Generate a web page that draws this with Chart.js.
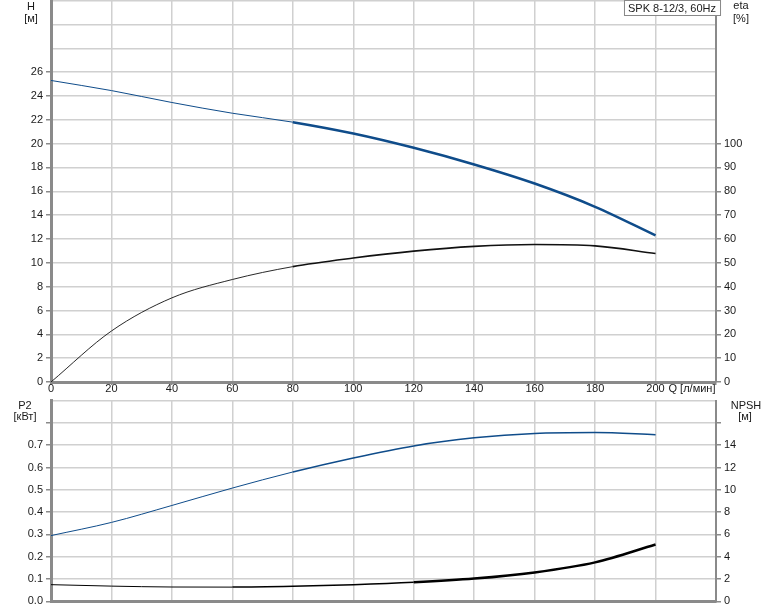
<!DOCTYPE html>
<html>
<head>
<meta charset="utf-8">
<script src="https://cdn.jsdelivr.net/npm/chart.js@4"></script>
<style>
  html, body { margin: 0; padding: 0; background: #fff; overflow: hidden; }
  #wrap { position: relative; width: 774px; height: 611px; overflow: hidden; }
  #topBox { position: absolute; left: 0; top: -9px; width: 774px; height: 407px; }
  #bottomBox { position: absolute; left: 0; top: 391px; width: 774px; height: 220px; }
</style>
</head>
<body>
<div id="wrap">
  <div id="topBox"><canvas id="curveChart"></canvas></div>
  <div id="bottomBox"><canvas id="powerChart"></canvas></div>
</div>
<script>
// Flow rate Q [л/мин]
const qValues = [0, 20, 40, 60, 80, 100, 120, 140, 160, 180, 200];
// Head H [м]
const hValues = [25.3, 24.45, 23.45, 22.55, 21.8, 20.85, 19.65, 18.25, 16.65, 14.7, 12.3];
// Efficiency eta [%]
const etaValues = [0, 21.4, 35.3, 43.0, 48.4, 52.0, 54.9, 56.9, 57.7, 57.1, 53.9];
// Power P2 [кВт]
const p2Values = [0.295, 0.354, 0.43, 0.508, 0.58, 0.643, 0.697, 0.733, 0.753, 0.757, 0.747];
// NPSH [м]
const npshValues = [1.5, 1.37, 1.29, 1.28, 1.35, 1.5, 1.72, 2.05, 2.6, 3.5, 5.1];

const xTicks = [0, 20, 40, 60, 80, 100, 120, 140, 160, 180, 200];

const font = { family: '"Liberation Sans", Arial, sans-serif', size: 11 };
const textColor = '#1a1a1a';
const gridColor = '#d0d0d0';
const axisColor = '#8a8a8a';

const pts = (ys) => qValues.map((q, i) => ({ x: q, y: ys[i] }));
// line gets heavier inside the working range
const widthByQ = (steps) => ctx => {
    let w = steps[0][1];
    steps.forEach(([from, width]) => { if (ctx.p0.parsed.x >= from) w = width; });
    return w;
};

const textPlugin = {
    id: 'textItems',
    afterDraw(chart, args, opts) {
        const c = chart.ctx;
        const dy = opts.dy || 0;
        c.save();
        c.font = '11px "Liberation Sans", Arial, sans-serif';
        c.fillStyle = textColor;
        c.textAlign = 'center';
        (opts.items || []).forEach(t => {
            if (t.box) {
                const w = c.measureText(t.text).width + 8;
                c.fillStyle = '#fff';
                c.fillRect(t.x - w / 2, dy, w, 16);
                c.strokeStyle = '#888';
                c.lineWidth = 1;
                c.strokeRect(t.x - w / 2 + 0.5, dy + 0.5, w, 15);
                c.fillStyle = textColor;
            }
            c.fillText(t.text, t.x, t.y + dy);
        });
        c.restore();
    }
};

function xScale(height, showLabels) {
    return {
        type: 'linear',
        min: 0,
        max: 220,
        afterBuildTicks: s => { s.ticks = [...xTicks, 220].map(v => ({ value: v })); },
        afterFit: s => { s.height = height; },
        ticks: {
            display: showLabels,
            autoSkip: false,
            maxRotation: 0,
            padding: -3,
            color: textColor,
            font: font,
            callback: v => v <= 200 ? v : ''
        },
        grid: { color: gridColor, lineWidth: 1.5, tickLength: 3, drawTicks: showLabels, tickColor: axisColor },
        border: { color: axisColor, width: 3 }
    };
}

function yScale(pos, max, step, lastLabel, width, fmt, drawGrid, tickMax) {
    return {
        type: 'linear',
        position: pos,
        min: 0,
        max: max,
        afterBuildTicks: s => {
            const t = [];
            for (let i = 0; i <= Math.round(max / step); i++) t.push({ value: +(i * step).toFixed(3) });
            s.ticks = t;
        },
        afterFit: s => { s.width = width; },
        ticks: {
            autoSkip: false,
            padding: 3,
            color: textColor,
            font: font,
            callback: v => v <= lastLabel + 1e-9 ? fmt(v) : ''
        },
        grid: {
            display: true,
            drawOnChartArea: drawGrid,
            color: gridColor,
            lineWidth: 1.5,
            tickLength: 5,
            tickColor: ctx => (ctx.tick && ctx.tick.value > tickMax + 1e-9) ? 'rgba(0,0,0,0)' : axisColor
        },
        border: { color: axisColor, width: pos === 'left' ? 3 : 2 }
    };
}

new Chart(document.getElementById('curveChart'), {
    type: 'line',
    data: {
        datasets: [
            {
                label: 'H',
                data: pts(hValues),
                yAxisID: 'yH',
                borderColor: '#0f4c8a',
                borderWidth: 2.5,
                segment: { borderWidth: widthByQ([[0, 1], [70, 2.5]]) },
                pointRadius: 0,
                cubicInterpolationMode: 'monotone'
            },
            {
                label: 'eta',
                data: pts(etaValues),
                yAxisID: 'yEta',
                borderColor: '#111',
                borderWidth: 1.6,
                segment: { borderWidth: widthByQ([[0, 0.9], [70, 1.6]]) },
                pointRadius: 0,
                cubicInterpolationMode: 'monotone'
            }
        ]
    },
    options: {
        responsive: true,
        maintainAspectRatio: false,
        animation: false,
        events: [],
        layout: { padding: 0 },
        plugins: {
            legend: { display: false },
            tooltip: { enabled: false },
            textItems: {
                dy: 9,
                items: [
                    { text: 'H', x: 31, y: 10 },
                    { text: '[м]', x: 31, y: 22 },
                    { text: 'eta', x: 741, y: 9 },
                    { text: '[%]', x: 741, y: 22 },
                    { text: 'Q [л/мин]', x: 692, y: 392 },
                    { text: 'SPK 8-12/3, 60Hz', x: 672, y: 12, box: true }
                ]
            }
        },
        scales: {
            x: xScale(16, true),
            yH: yScale('left', 32, 2, 26, 51, v => String(v), true, 26),
            yEta: yScale('right', 160, 10, 100, 58, v => String(v), false, 100)
        }
    },
    plugins: [textPlugin]
});

new Chart(document.getElementById('powerChart'), {
    type: 'line',
    data: {
        datasets: [
            {
                label: 'P2',
                data: pts(p2Values),
                yAxisID: 'yP',
                borderColor: '#0f4c8a',
                borderWidth: 1.5,
                segment: { borderWidth: widthByQ([[0, 1], [70, 1.5]]) },
                pointRadius: 0,
                cubicInterpolationMode: 'monotone'
            },
            {
                label: 'NPSH',
                data: pts(npshValues),
                yAxisID: 'yN',
                borderColor: '#000',
                borderWidth: 2.5,
                segment: { borderWidth: widthByQ([[0, 1], [60, 1.5], [120, 2.5]]) },
                pointRadius: 0,
                cubicInterpolationMode: 'monotone'
            }
        ]
    },
    options: {
        responsive: true,
        maintainAspectRatio: false,
        animation: false,
        events: [],
        layout: { padding: 0 },
        plugins: {
            legend: { display: false },
            tooltip: { enabled: false },
            textItems: {
                dy: 7,
                items: [
                    { text: 'P2', x: 25, y: 11 },
                    { text: '[кВт]', x: 25, y: 22 },
                    { text: 'NPSH', x: 746, y: 11 },
                    { text: '[м]', x: 745, y: 22 }
                ]
            }
        },
        scales: {
            x: xScale(7, false),
            yP: yScale('left', 0.9, 0.1, 0.7, 51, v => v.toFixed(1), true, 0.8),
            yN: yScale('right', 18, 2, 14, 58, v => String(v), false, 16)
        }
    },
    plugins: [textPlugin]
});
</script>
</body>
</html>
